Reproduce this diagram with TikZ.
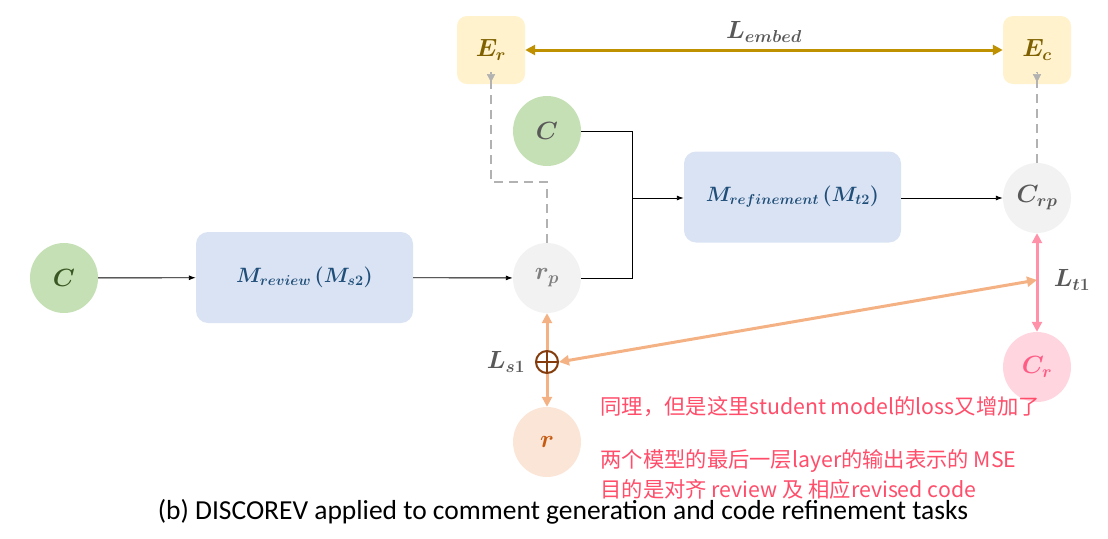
\documentclass[tikz,border=0pt]{standalone}
\usepackage{fontspec}
\usepackage{amsmath}
\usepackage{bm}
\usetikzlibrary{arrows.meta,shapes.geometric}
\newfontfamily\cjk{Noto Sans CJK SC}
\newfontfamily\capfont{Carlito}
\definecolor{mfill}{HTML}{DAE3F3}
\definecolor{mtext}{HTML}{1F4E79}
\definecolor{gfill}{HTML}{C5E0B4}
\definecolor{gtext}{HTML}{385723}
\definecolor{nfill}{HTML}{F2F2F2}
\definecolor{ntext}{HTML}{7F7F7F}
\definecolor{efill}{HTML}{FFF2CC}
\definecolor{etext}{HTML}{7F6000}
\definecolor{gold}{HTML}{BF9000}
\definecolor{pfill}{HTML}{FFD5DF}
\definecolor{ptext}{HTML}{FF5C85}
\definecolor{pline}{HTML}{FF91A8}
\definecolor{ofill}{HTML}{FBE5D6}
\definecolor{otext}{HTML}{C55A11}
\definecolor{oline}{HTML}{F4B183}
\definecolor{brown}{HTML}{843C0C}
\definecolor{ltext}{HTML}{595959}
\definecolor{note}{HTML}{FF4D6A}
\tikzset{
  model/.style={rectangle, rounded corners=12pt, fill=mfill, text=mtext, minimum width=217pt, minimum height=91pt, font=\fontsize{22}{26}\selectfont},
  blob/.style={ellipse, minimum width=68pt, minimum height=70pt, inner sep=0pt, font=\fontsize{23}{26}\selectfont},
  ebox/.style={rectangle, rounded corners=10pt, fill=efill, text=etext, minimum width=68pt, minimum height=68pt, font=\fontsize{23}{26}\selectfont},
  flow/.style={-{Latex[length=7pt,width=5pt]}, line width=0.9pt, black},
  feed/.style={line width=0.9pt, black},
  dashline/.style={dashed, dash pattern=on 9pt off 6pt, line width=2pt, gray!60},
  lbl/.style={text=ltext, font=\fontsize{23}{26}\selectfont},
  notes/.style={text=note, font=\cjk\fontsize{21.3}{24}\selectfont, anchor=west},
}
\begin{document}
\begin{tikzpicture}[x=1pt,y=-1pt]
\useasboundingbox (0,0) rectangle (1108,538);
% nodes
\node[blob, fill=gfill, text=gtext] (c1) at (64,278) {$\bm{C}$};
\node[model] (mrev) at (304.5,277.5) {$\bm{M_{review}\,(M_{s2})}$};
\node[blob, fill=nfill, text=ntext] (rp) at (547,278) {$\bm{r_p}$};
\node[blob, fill=gfill, text=ltext] (c2) at (547,131) {$\bm{C}$};
\node[model] (mref) at (792.5,197) {$\bm{M_{refinement}\,(M_{t2})}$};
\node[blob, fill=nfill, text=ltext] (crp) at (1037,198) {$\bm{C_{rp}}$};
\node[ebox] (er) at (491,50) {$\bm{E_r}$};
\node[ebox] (ec) at (1037,50) {$\bm{E_c}$};
\node[blob, fill=pfill, text=ptext] (cr) at (1037,367) {$\bm{C_r}$};
\node[blob, fill=ofill, text=otext] (r) at (547,442) {$\bm{r}$};
\node[circle, draw=brown, line width=2pt, minimum size=22pt, inner sep=0pt] (plus) at (547,362) {};
\draw[brown, line width=2pt] (plus.north) -- (plus.south) (plus.west) -- (plus.east);
% black flow
\draw[flow] (c1) -- (mrev);
\draw[flow] (mrev) -- (rp);
\coordinate (j) at (632,198);
\draw[feed] (c2.east) -| (j);
\draw[feed] (rp.east) -| (j);
\draw[flow] (j) -- (mref.west |- j);
\draw[flow] (mref.east |- crp) -- (crp.west);
% dashed to embeddings
\coordinate (d1) at (547,182);
\coordinate (d2) at (491,182);
\draw[dashline] (rp.north) -- (d1) -- (d2) -- ([yshift=12pt]er.south);
\draw[gray!60, -{Triangle[length=8pt,width=8pt]}] ([yshift=11pt]er.south) -- ([yshift=2pt]er.south);
\draw[dashline] (crp.north) -- ([yshift=12pt]ec.south);
\draw[gray!60, -{Triangle[length=8pt,width=8pt]}] ([yshift=11pt]ec.south) -- ([yshift=2pt]ec.south);
% embed loss
\draw[gold, line width=3pt, {Triangle[length=10pt,width=10pt]}-{Triangle[length=10pt,width=10pt]}] (er.east) -- node[above=3pt, lbl] {$\bm{L_{embed}}$} (ec.west);
% teacher loss
\coordinate (t) at (1037,280);
\draw[pline, line width=3pt, {Triangle[length=10pt,width=10pt]}-{Triangle[length=10pt,width=10pt]}] (crp.south) -- (cr.north);
\node[lbl] (lt1) at (1072,280) {$\bm{L_{t1}}$};
% student loss
\draw[oline, line width=3pt, -{Triangle[length=10pt,width=10pt]}] (plus.north) -- (rp.south);
\draw[oline, line width=3pt, -{Triangle[length=10pt,width=10pt]}] (plus.south) -- (r.north);
\draw[oline, line width=3pt, {Triangle[length=10pt,width=10pt]}-{Triangle[length=10pt,width=10pt]}] (plus.east) -- (t);
\node[lbl] (ls1) at (506,362) {$\bm{L_{s1}}$};
% notes
\node[notes] (n1) at (597,407) {同理，但是这里student model的loss又增加了};
\node[notes] (n2) at (597,461) {两个模型的最后一层layer的输出表示的 MSE};
\node[notes] (n3) at (597,489) {目的是对齐 review 及 相应revised code};
% caption
\node[font=\capfont\fontsize{27.5}{30}\selectfont] (cap) at (563,512) {(b) DISCOREV applied to comment generation and code refinement tasks};
\end{tikzpicture}
\end{document}
